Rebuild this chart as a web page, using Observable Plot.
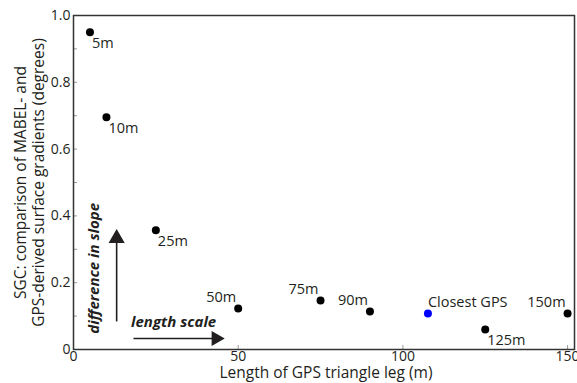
<!DOCTYPE html>
<html>
<head>
<meta charset="utf-8">
<script src="https://cdn.jsdelivr.net/npm/d3@7"></script>
<script src="https://cdn.jsdelivr.net/npm/@observablehq/plot@0.6"></script>
<style>
  html, body { margin: 0; padding: 0; background: #fff; }
  #chart svg { display: block; }
</style>
</head>
<body>
<div id="chart"></div>
<script>
// Data
const legLengths = [5, 10, 25, 50, 75, 90, 125, 150];
const legLabels  = ["5m", "10m", "25m", "50m", "75m", "90m", "125m", "150m"];
const sgcValues  = [0.950, 0.695, 0.357, 0.123, 0.147, 0.114, 0.060, 0.108];
const labelSide  = ["br", "br", "br", "tl", "tl", "tl", "br", "tl"];

const closestGps = [{x: 107.6, y: 0.108, label: "Closest GPS"}];

const xTicks = [0, 50, 100, 150];
const yMajorTicks = [0, 0.2, 0.4, 0.6, 0.8, 1.0];
const yMinorTicks = [0, 0.1, 0.2, 0.3, 0.4, 0.5, 0.6, 0.7, 0.8, 0.9, 1.0];

const xLabel = "Length of GPS triangle leg (m)";
const yLabelLines = ["SGC: comparison of MABEL- and", "GPS-derived surface gradients (degrees)"];

// annotation arrows (data coordinates of tail and tip)
const arrowVertical   = {x1: 13.1, y1: 0.084, x2: 13.1, y2: 0.347, text: "difference in slope", tx: 6.4, ty: 0.243};
const arrowHorizontal = {x1: 18.2, y1: 0.033, x2: 44.6, y2: 0.033, text: "length scale", tx: 30.4, ty: 0.081};

const points = legLengths.map((x, i) => ({x, y: sgcValues[i], label: legLabels[i], side: labelSide[i]}));

const ink = "#231f20";
const font = "'Open Sans', sans-serif";

const chart = Plot.plot({
  width: 577,
  height: 383,
  marginLeft: 73,
  marginRight: 3,
  marginTop: 15,
  marginBottom: 34,
  style: {fontFamily: font, fontSize: "14px", color: ink, background: "#fff"},
  x: {domain: [0, 152.1]},
  y: {domain: [0, 1]},
  marks: [
    // inward minor ticks on y
    Plot.axisY(yMinorTicks, {anchor: "left", tickSize: -4, text: null, stroke: "#999", strokeWidth: 1, label: null}),
    // y tick labels
    Plot.axisY(yMajorTicks, {anchor: "left", tickSize: 0, tickPadding: 3, tickFormat: d => d === 0 ? "0" : d.toFixed(1), fontSize: 14, fill: ink, label: null}),
    // inward ticks on x
    Plot.axisX(xTicks, {anchor: "bottom", tickSize: -4, text: null, stroke: "#999", strokeWidth: 1, label: null}),
    Plot.axisX(xTicks, {anchor: "bottom", tickSize: 0, tickPadding: 2, fontSize: 14, fill: ink, label: null}),
    // axis titles
    Plot.text([xLabel], {frameAnchor: "bottom", textAnchor: "middle", lineAnchor: "middle", dx: 2, dy: 24, fontSize: 15.5, fill: ink, text: d => d}),
    Plot.text([yLabelLines.join("\n")], {frameAnchor: "left", textAnchor: "middle", lineAnchor: "middle", rotate: -90, dx: -44, lineHeight: 1.15, fontSize: 15.5, fill: ink, text: d => d}),
    Plot.frame({stroke: "#333", strokeWidth: 1.5}),
    // annotation arrows
    Plot.link([arrowVertical, arrowHorizontal], {x1: "x1", y1: "y1", x2: "x2", y2: "y2", stroke: ink, strokeWidth: 1.6}),
    Plot.dot([arrowVertical], {x: "x2", y: "y2", symbol: "triangle", r: 6, fill: ink, stroke: "none", dy: 4.7}),
    Plot.dot([arrowHorizontal], {x: "x2", y: "y2", symbol: "triangle", r: 5.6, rotate: 90, fill: ink, stroke: "none", dx: -4.4}),
    Plot.text([arrowVertical], {x: "tx", y: "ty", text: "text", rotate: -90, fontWeight: "bold", fontStyle: "italic", fontSize: 15, fill: ink}),
    Plot.text([arrowHorizontal], {x: "tx", y: "ty", text: "text", fontWeight: "bold", fontStyle: "italic", fontSize: 15, fill: ink}),
    // data points
    Plot.dot(points, {x: "x", y: "y", r: 4, fill: "black", stroke: "none"}),
    Plot.dot(closestGps, {x: "x", y: "y", r: 4, fill: "#0000ff", stroke: "none"}),
    // labels
    Plot.text(points.filter(d => d.side === "br"), {x: "x", y: "y", text: "label", textAnchor: "start", dx: 2, dy: 11, fontSize: 14.5, fill: ink}),
    Plot.text(points.filter(d => d.side === "tl"), {x: "x", y: "y", text: "label", textAnchor: "end", dx: -2, dy: -11, fontSize: 14.5, fill: ink}),
    Plot.text(closestGps, {x: "x", y: "y", text: "label", textAnchor: "start", dx: 0, dy: -11, fontSize: 14.5, fill: ink})
  ]
});
document.getElementById("chart").appendChild(chart);
</script>
</body>
</html>
